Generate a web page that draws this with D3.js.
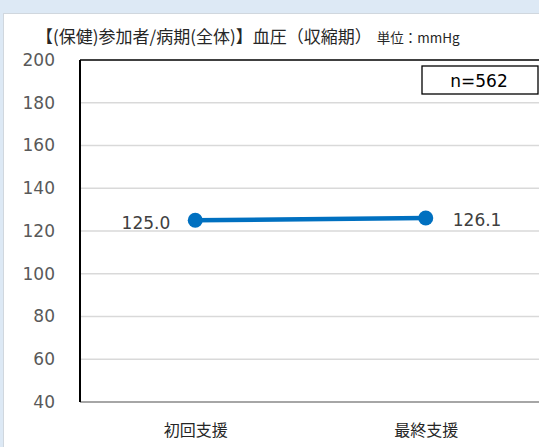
<!DOCTYPE html>
<html><head><meta charset="utf-8">
<script src="https://cdn.jsdelivr.net/npm/d3@7"></script>
<style>
html,body{margin:0;padding:0;background:#dde9f5;overflow:hidden;}
svg{display:block;}
text{font-family:"Noto Sans CJK JP","Noto Sans",sans-serif;}
</style></head><body>
<script>
const categories = ["初回支援", "最終支援"];
const values = [125.0, 126.1];
const valueLabels = ["125.0", "126.1"];
const yTicks = [40, 60, 80, 100, 120, 140, 160, 180, 200];
const titleMain = "【(保健)参加者/病期(全体)】血圧（収縮期）";
const titleUnit = "単位：mmHg";
const nLabel = "n=562";

const W = 539, H = 447;
const numFont = '"DejaVu Sans","Noto Sans",sans-serif';
const svg = d3.select("body").append("svg").attr("width", W).attr("height", H);
svg.append("rect").attr("x", 0).attr("y", 0).attr("width", W).attr("height", H).attr("fill", "#dde9f5");
svg.append("rect").attr("x", 3.5).attr("y", 13.5).attr("width", W + 10).attr("height", H + 10)
  .attr("fill", "#ffffff").attr("stroke", "#d0d7de").attr("stroke-width", 1);

const L = 80, R = 541, T = 60, B = 402;
const y = d3.scaleLinear().domain([40, 200]).range([B, T]);
const x = d3.scalePoint().domain(categories).range([L, R]).padding(0.5);

// gridlines
svg.append("g").selectAll("line").data(yTicks.filter(d => d > 40 && d < 200)).join("line")
  .attr("x1", L).attr("x2", R).attr("y1", d => y(d)).attr("y2", d => y(d))
  .attr("stroke", "#d9d9d9").attr("stroke-width", 1.3);

// bottom axis
svg.append("line").attr("x1", L).attr("x2", R).attr("y1", y(40)).attr("y2", y(40))
  .attr("stroke", "#a6a6a6").attr("stroke-width", 2);
// plot border top/left
svg.append("line").attr("x1", L).attr("x2", R).attr("y1", T).attr("y2", T).attr("stroke", "#000").attr("stroke-width", 1.5);
svg.append("line").attr("x1", L).attr("x2", L).attr("y1", T).attr("y2", B).attr("stroke", "#000").attr("stroke-width", 2);

// y axis labels
const yAxis = d3.axisLeft(y).tickValues(yTicks).tickSize(0).tickPadding(0);
const gy = svg.append("g").attr("transform", `translate(55,0)`).call(yAxis);
gy.select(".domain").remove();
gy.selectAll("text").attr("font-size", 17).attr("fill", "#595959")
  .style("font-family", numFont);

// x axis labels
const xAxis = d3.axisBottom(x).tickSize(0).tickPadding(0);
const gx = svg.append("g").attr("transform", `translate(0,${B + 23})`).call(xAxis);
gx.select(".domain").remove();
gx.selectAll("text").attr("font-size", 16).attr("fill", "#262626")
  .style("font-family", '"Noto Sans CJK JP",sans-serif');

// line
const line = d3.line().x((d, i) => x(categories[i])).y(d => y(d));
svg.append("path").datum(values).attr("d", line).attr("fill", "none")
  .attr("stroke", "#0070c0").attr("stroke-width", 4.5);
svg.append("g").selectAll("circle").data(values).join("circle")
  .attr("cx", (d, i) => x(categories[i])).attr("cy", d => y(d)).attr("r", 7.5)
  .attr("fill", "#0070c0");

// value labels
svg.append("g").selectAll("text").data(values).join("text")
  .attr("x", (d, i) => x(categories[i]) + (i === 0 ? -25 : 27))
  .attr("y", d => y(d) + 8.5)
  .attr("text-anchor", (d, i) => i === 0 ? "end" : "start")
  .attr("font-size", 17).attr("fill", "#404040")
  .style("font-family", numFont)
  .text((d, i) => valueLabels[i]);

// title
const title = svg.append("text").attr("x", 36).attr("y", 43).attr("fill", "#262626");
title.append("tspan").attr("font-size", 17).text(titleMain);
title.append("tspan").attr("font-size", 13.5).attr("dx", 5).text(titleUnit);

// n box
svg.append("rect").attr("x", 422).attr("y", 66).attr("width", 116).attr("height", 28)
  .attr("fill", "#fff").attr("stroke", "#000").attr("stroke-width", 1.3);
svg.append("text").attr("x", 479).attr("y", 86.5).attr("text-anchor", "middle")
  .attr("font-size", 17).attr("fill", "#000")
  .style("font-family", numFont).text(nLabel);
</script>
</body></html>
